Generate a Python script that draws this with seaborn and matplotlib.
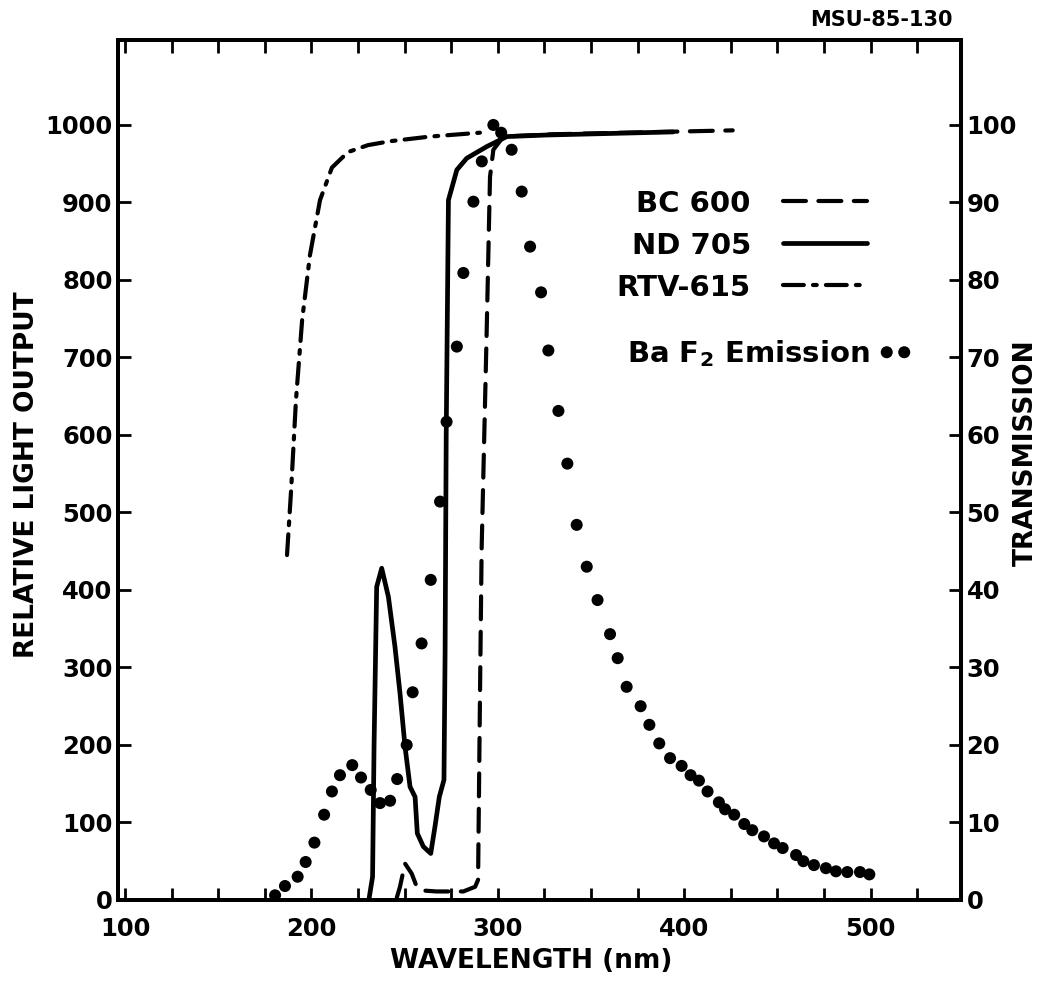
import numpy as np
import pandas as pd
import matplotlib
matplotlib.use("Agg")
import matplotlib.pyplot as plt
import seaborn as sns

# ---------------- data ----------------
# BaF2 emission, relative light output (left axis)
emis_nm = [180.5, 185.8, 192.6, 196.9, 201.6, 206.8, 211.0, 215.3, 221.9, 226.6,
           231.8, 236.8, 242.2, 246.0, 251.1, 254.3, 259.1, 264.0, 269.0, 272.5,
           278.0, 281.5, 286.9, 291.4, 297.6, 301.8, 307.4, 312.8, 317.3, 323.2,
           327.1, 332.5, 337.3, 342.3, 347.7, 353.5, 360.2, 364.3, 369.1, 376.6,
           381.3, 386.6, 392.4, 398.6, 403.4, 407.9, 412.5, 418.6, 421.9, 426.8,
           432.2, 436.5, 442.8, 448.2, 452.8, 460.0, 463.9, 469.6, 476.0, 481.4,
           487.5, 494.3, 499.3]
emis_val = [6, 18, 30, 49, 74, 110, 140, 161, 174, 158,
            142, 125, 128, 156, 200, 268, 331, 413, 514, 617,
            714, 809, 901, 953, 1000, 990, 968, 914, 843, 784,
            709, 631, 563, 484, 430, 387, 343, 312, 275, 250,
            226, 202, 183, 173, 161, 154, 140, 126, 117, 110,
            98, 90, 82, 73, 67, 58, 50, 45, 41, 37,
            36, 36, 33]

# BC 600 transmission (%)
bc_nm = [245.8, 247.5, 250.2, 253.8, 256.5, 261.0, 267.0, 281.5, 287.8, 289.4,
         290.4, 291.3, 294.0, 295.8, 297.6, 303.0, 330.0, 426.0]
bc_val = [0.3, 1.7, 4.7, 3.4, 1.7, 1.2, 1.1, 1.1, 1.7, 2.6,
          25.8, 45.2, 73.2, 93.3, 96.8, 98.5, 98.8, 99.3]

# ND 705 transmission (%)
nd_nm = [231.0, 232.8, 233.6, 235.0, 237.7, 241.3, 244.8, 247.5, 250.2, 252.9,
         255.6, 256.8, 260.0, 264.0, 266.3, 268.6, 271.1, 271.7, 272.3, 273.5,
         278.0, 283.3, 294.0, 304.8, 326.0, 394.0]
nd_val = [0.3, 3.0, 20.0, 40.4, 42.8, 39.1, 32.7, 26.7, 19.8, 14.6,
          13.3, 8.6, 6.9, 6.0, 9.5, 13.3, 15.5, 31.8, 60.0, 90.3,
          94.2, 95.7, 97.2, 98.5, 98.7, 99.1]

# RTV-615 transmission (%)
rtv_nm = [186.9, 189.1, 191.7, 195.0, 199.2, 204.6, 211.0, 219.6, 230.4, 242.2,
          263.6, 290.4]
rtv_val = [44.5, 52.9, 64.5, 74.8, 83.2, 90.3, 94.5, 96.5, 97.4, 97.9,
           98.5, 99.0]

x_ticks = [100, 200, 300, 400, 500]
left_ticks = list(range(0, 1001, 100))
right_ticks = list(range(0, 101, 10))

# ---------------- style ----------------
sns.set_theme(style="white")
plt.rcParams['font.family'] = ['DejaVu Sans']
plt.rcParams['font.weight'] = 'bold'
plt.rcParams['text.color'] = 'black'
plt.rcParams['axes.labelcolor'] = 'black'
plt.rcParams['mathtext.fontset'] = 'custom'
plt.rcParams['mathtext.rm'] = 'DejaVu Sans:bold'
plt.rcParams['mathtext.it'] = 'DejaVu Sans:bold'
plt.rcParams['mathtext.bf'] = 'DejaVu Sans:bold'
plt.rcParams['mathtext.default'] = 'rm'

INK = 'black'
LW = 3.0
TICKFS = 17.5
LABFS = 19
LEGFS = 21

fig = plt.figure(figsize=(10.42, 9.81), dpi=100)
ax = fig.add_axes([0.1132, 0.0826, 0.8091, 0.8767])
ax2 = ax.twinx()

# emission dots on left axis
emis = pd.DataFrame({"nm": emis_nm, "val": emis_val})
sns.scatterplot(data=emis, x="nm", y="val", ax=ax, color=INK, s=75,
                edgecolor='none', legend=False, zorder=3,
                label="Ba F$_2$ Emission")

# transmission curves on right axis
bc = pd.DataFrame({"nm": bc_nm, "val": bc_val})
nd = pd.DataFrame({"nm": nd_nm, "val": nd_val})
rtv = pd.DataFrame({"nm": rtv_nm, "val": rtv_val})
sns.lineplot(data=bc, x="nm", y="val", ax=ax2, color=INK, lw=LW,
             estimator=None, legend=False, label="BC 600")
sns.lineplot(data=nd, x="nm", y="val", ax=ax2, color=INK, lw=LW + 0.4,
             estimator=None, legend=False, label="ND 705")
sns.lineplot(data=rtv, x="nm", y="val", ax=ax2, color=INK, lw=LW,
             estimator=None, legend=False, label="RTV-615")
line_bc, line_nd, line_rtv = ax2.get_lines()[:3]
line_bc.set_dashes((5.5, 3.0))
line_rtv.set_dashes((5.0, 2.2, 0.9, 2.2))
for ln in (line_bc, line_nd, line_rtv):
    ln.set_solid_capstyle('round')
    ln.set_dash_capstyle('round')

# ---------------- axes ----------------
ax.set_xlim(96.2, 548.5)
ax.set_ylim(0, 1109.7)
ax2.set_ylim(0, 110.97)

ax.set_xticks(x_ticks)
ax.set_xticklabels([str(v) for v in x_ticks])
ax.set_xticks(np.arange(125, 549, 25), minor=True)
ax.set_yticks(left_ticks)
ax.set_yticklabels([str(v) for v in left_ticks])
ax2.set_yticks(right_ticks)
ax2.set_yticklabels([str(v) for v in right_ticks])

for a in (ax, ax2):
    for sp in a.spines.values():
        sp.set_visible(True)
        sp.set_color(INK)
        sp.set_linewidth(2.8)
    a.grid(False)

ax.tick_params(axis='x', which='both', direction='in', top=True, bottom=True,
               length=9, width=2.0, colors=INK, labelsize=TICKFS, pad=12)
ax.tick_params(axis='y', which='major', direction='in', left=True, right=False,
               length=9, width=2.0, colors=INK, labelsize=TICKFS, pad=4)
ax2.tick_params(axis='y', which='major', direction='in', right=True, left=False,
                length=9, width=2.0, colors=INK, labelsize=TICKFS, pad=4)
for lab in ax.get_xticklabels() + ax.get_yticklabels() + ax2.get_yticklabels():
    lab.set_fontweight('bold')

ax.set_xlabel("WAVELENGTH (nm)", fontsize=LABFS, fontweight='bold', color=INK)
ax.set_ylabel("RELATIVE LIGHT OUTPUT", fontsize=LABFS, fontweight='bold', color=INK)
ax2.set_ylabel("TRANSMISSION", fontsize=LABFS, fontweight='bold', color=INK)
ax.xaxis.set_label_coords(0.49, -0.056)
ax.yaxis.set_label_coords(-0.093, 0.494)
ax2.yaxis.set_label_coords(1.062, 0.52)

# ---------------- legends ----------------
leg1 = ax2.legend(handles=[line_bc, line_nd, line_rtv],
                  labels=["BC 600", "ND 705", "RTV-615"],
                  loc='upper right', bbox_to_anchor=(0.889, 0.826),
                  frameon=False, markerfirst=False, fontsize=LEGFS,
                  handlelength=2.9, handletextpad=1.1, labelspacing=0.48,
                  borderpad=0, borderaxespad=0)
for t in leg1.get_texts():
    t.set_fontweight('bold')
    t.set_color(INK)
ax2.add_artist(leg1)

dots = ax.collections[0]
leg2 = ax2.legend(handles=[dots], labels=["Ba F$_2$ Emission"],
                  loc='center right', bbox_to_anchor=(0.943, 0.635),
                  frameon=False, markerfirst=False, fontsize=LEGFS,
                  scatterpoints=2, scatteryoffsets=[0.5],
                  handlelength=1.2, handletextpad=0.3,
                  borderpad=0, borderaxespad=0)
for t in leg2.get_texts():
    t.set_fontweight('bold')
    t.set_color(INK)

fig.text(953 / 1042, 1 - 20 / 981, "MSU-85-130", ha='right', va='center',
         fontsize=15, fontweight='bold', color=INK)

fig.savefig("out.png", dpi=100, facecolor='white')
